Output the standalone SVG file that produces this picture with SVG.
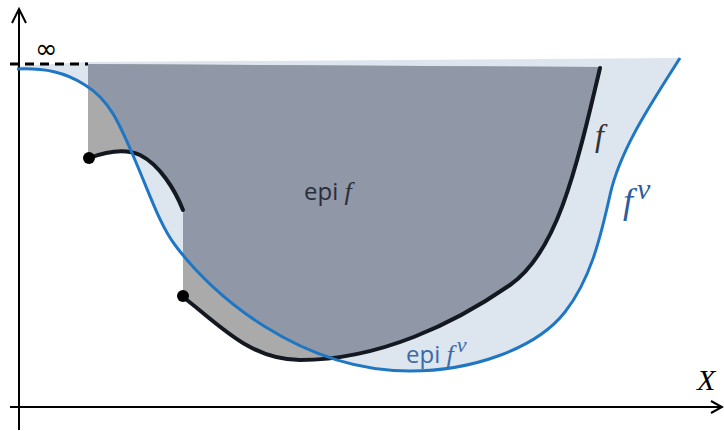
<svg xmlns="http://www.w3.org/2000/svg" width="724" height="431" viewBox="0 0 724 431">
<style>
.axis{stroke:#000;stroke-width:2;fill:none}
.fb{stroke:#141821;stroke-width:4;fill:none;stroke-linecap:round}
.fnu{stroke:#1f77c4;stroke-width:3;fill:none}
.sans{font-family:"Open Sans","Liberation Sans",sans-serif}
.it{font-family:"Liberation Serif",serif;font-style:italic}
</style>
<defs>
<path id="epiNu" d="M17,69 C45,68 65,72 85,85 C110,100 120,125 135,160 C150,195 160,225 175,245 C212,295 300,371 410,371 C470,371 535,350 565,312 C590,280 600,240 610,195 C620,150 650,105 680,58 L88,62 L17,66 Z"/>
<path id="epiF" d="M88,64 L88,158 C105,152 125,148 140,155 C160,165 175,190 183,210 L183,297 C220,325 250,360 300,360 C380,360 455,323 510,285 C556,253 575,175 600,68 L600,67 Z"/>
<clipPath id="clipNu"><use href="#epiNu"/></clipPath>
</defs>
<g id="regions">
<use href="#epiNu" fill="#dde5ef"/>
<use href="#epiF" fill="#aaaaaa"/>
<use href="#epiF" fill="#9098a8" clip-path="url(#clipNu)"/>
</g>
<g id="axes">
<line class="axis" x1="19" y1="430" x2="19" y2="9"/>
<polyline class="axis" points="12,23 19,9 26,23"/>
<line class="axis" x1="10" y1="407" x2="722" y2="407"/>
<polyline class="axis" points="711,401 722,407 711,413"/>
<line x1="10" y1="64" x2="88" y2="64" stroke="#000" stroke-width="3" stroke-dasharray="9,6"/>
</g>
<g id="connectors">
<path id="f1" class="fb" d="M89,158 C105,152 125,148 140,155 C160,165 175,190 183,210"/>
<path id="f2" class="fb" d="M183,297 C220,325 250,360 300,360 C380,360 455,323 510,285 C556,253 575,175 600,68"/>
<circle cx="89" cy="158" r="6" fill="#000"/>
<circle cx="183" cy="296" r="6" fill="#000"/>
<path id="fnu" class="fnu" d="M17,69 C45,68 65,72 85,85 C110,100 120,125 135,160 C150,195 160,225 175,245 C212,295 300,371 410,371 C470,371 535,350 565,312 C590,280 600,240 610,195 C620,150 650,105 680,58"/>
</g>
<g id="labels">
<text x="35" y="58" font-family="DejaVu Sans,sans-serif" font-size="27" fill="#000">∞</text>
<text x="304" y="200" class="sans" font-size="24" fill="#2a2d38">epi <tspan class="it" font-size="26">f</tspan></text>
<text x="595" y="146" class="it" font-size="32" fill="#333">f</text>
<text x="623" y="213" class="it" font-size="36" fill="#2e5c9c">f<tspan font-size="30" dy="-14" dx="4">ν</tspan></text>
<text x="406" y="363" class="sans" font-size="24" fill="#3b6aa8">epi <tspan class="it" font-size="26">f</tspan><tspan class="it" font-size="22" dy="-11" dx="3">ν</tspan></text>
<text x="697" y="390" class="it" font-size="30" fill="#000">X</text>
</g>
</svg>
